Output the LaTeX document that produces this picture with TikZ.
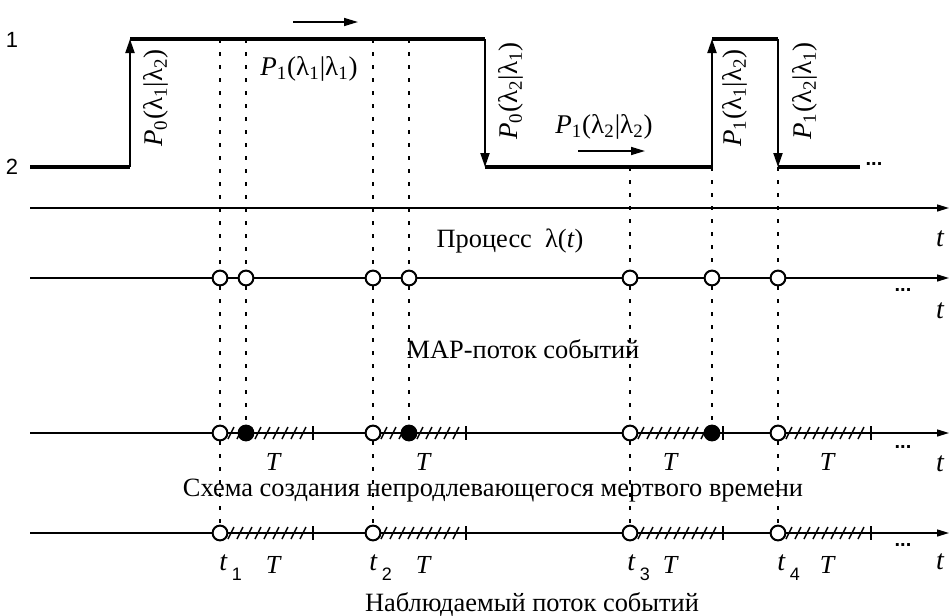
\documentclass[tikz,border=0pt]{standalone}
\usepackage{fontspec}
\setmainfont{Liberation Serif}
\newfontfamily\arialf{Liberation Sans}
\usetikzlibrary{arrows.meta}
\newcommand\dthatch[2]{% circle x, axis y
  \foreach \hk in {0,...,8}{\draw[line width=0.75pt] ({#1+11+9*\hk-3},{#2+6}) -- ({#1+11+9*\hk+3},{#2-6});}%
  \draw[line width=0.9pt] ({#1+93},{#2-7}) -- ({#1+93},{#2+7});%
}
\begin{document}
\begin{tikzpicture}[x=0.5pt,y=-0.5pt,
  state/.style={line width=2pt},
  trans/.style={line width=1pt,-{Triangle[length=7pt,width=4.5pt]}},
  harrow/.style={line width=0.8pt,-{Triangle[length=7pt,width=4pt]}},
  axis/.style={line width=0.75pt,-{Triangle[length=6pt,width=3.5pt]}},
  guide/.style={line width=1.3pt,dash pattern=on 2pt off 4.5pt},
  ev/.style={circle,draw,line width=1pt,fill=white,inner sep=0pt,minimum size=7.4pt},
  evf/.style={ev,fill=black},
  lbl/.style={font=\fontsize{13.2}{15}\selectfont,inner sep=0.5pt},
  plbl/.style={font=\fontsize{13.5}{15}\selectfont,inner sep=1pt},
  slbl/.style={font=\arialf\fontsize{11}{13}\selectfont},
  dots/.style={font=\arialf\bfseries\fontsize{10}{12}\selectfont,inner sep=1pt},
  tl/.style={font=\itshape\fontsize{14}{16}\selectfont,inner sep=1pt},
  tt/.style={font=\itshape\fontsize{13}{15}\selectfont,inner sep=0pt}]
\useasboundingbox (0,0) rectangle (949,616);

% state process
\coordinate (a0) at (30,167);
\coordinate (a1) at (130,167);
\coordinate (a2) at (130,39);
\coordinate (a3) at (485,39);
\coordinate (a4) at (485,167);
\coordinate (a5) at (712,167);
\coordinate (a6) at (712,39);
\coordinate (a7) at (778,39);
\coordinate (a8) at (778,167);
\coordinate (a9) at (860,167);
\draw[state] (a0) -- (a1);
\draw[state] (a2) -- (a3);
\draw[state] (a4) -- (a5);
\draw[state] (a6) -- (a7);
\draw[state] (a8) -- (a9);
\draw[trans] (a1) -- (a2);
\draw[trans] (a3) -- (a4);
\draw[trans] (a5) -- (a6);
\draw[trans] (a7) -- (a8);
\node[slbl] (l1) at (12,40) {1};
\node[slbl] (l2) at (12,167) {2};
\node[dots] (d0) at (874,164) {...};

\coordinate (h1s) at (293,22); \coordinate (h1e) at (358,22);
\coordinate (h2s) at (578,151); \coordinate (h2e) at (645,151);
\draw[harrow] (h1s) -- (h1e);
\draw[harrow] (h2s) -- (h2e);

\node[plbl] (p11) at (309,69) {\textit{P}\textsubscript{1}(λ\textsubscript{1}|λ\textsubscript{1})};
\node[plbl] (p22) at (604,127) {\textit{P}\textsubscript{1}(λ\textsubscript{2}|λ\textsubscript{2})};
\node[plbl,rotate=90] (p012) at (156,98) {\textit{P}\textsubscript{0}(λ\textsubscript{1}|λ\textsubscript{2})};
\node[plbl,rotate=90] (p021) at (511,91) {\textit{P}\textsubscript{0}(λ\textsubscript{2}|λ\textsubscript{1})};
\node[plbl,rotate=90] (p112) at (735,98) {\textit{P}\textsubscript{1}(λ\textsubscript{1}|λ\textsubscript{2})};
\node[plbl,rotate=90] (p121) at (805,91) {\textit{P}\textsubscript{1}(λ\textsubscript{2}|λ\textsubscript{1})};

% axes
\coordinate (x1s) at (30,208); \coordinate (x1e) at (949,208);
\coordinate (x2s) at (30,278); \coordinate (x2e) at (949,278);
\coordinate (x3s) at (30,433); \coordinate (x3e) at (949,433);
\coordinate (x4s) at (30,533); \coordinate (x4e) at (949,533);
\draw[axis] (x1s) -- (x1e);
\draw[axis] (x2s) -- (x2e);
\draw[axis] (x3s) -- (x3e);
\draw[axis] (x4s) -- (x4e);

\node[tl] (t1) at (940,239) {t};
\node[tl] (t2) at (940,311) {t};
\node[tl] (t3) at (940,464) {t};
\node[tl] (t4) at (940,562) {t};
\node[dots] (d2) at (903,290) {...};
\node[dots] (d3) at (903,447) {...};
\node[dots] (d4) at (903,545) {...};

\node[lbl] (c1) at (510,241) {Процесс\ \ λ(\textit{t})};
\node[lbl] (c2) at (523,349) {MAP-поток событий};
\node[lbl] (c3) at (493,491) {Схема создания непродлевающегося мертвого времени};
\node[lbl] (c4) at (532,605) {Наблюдаемый поток событий};

% guide tops
\coordinate (g1) at (220,39);
\coordinate (g2) at (246,39);
\coordinate (g3) at (373,39);
\coordinate (g4) at (409,39);
\coordinate (g5) at (630,167);
\coordinate (g6) at (712,167);
\coordinate (g7) at (778,167);

% hatching of dead time
\dthatch{220}{433}
\dthatch{373}{433}
\dthatch{630}{433}
\dthatch{778}{433}
\dthatch{220}{533}
\dthatch{373}{533}
\dthatch{630}{533}
\dthatch{778}{533}

% events
\node[ev] (m1) at (220,278) {};
\node[ev] (m2) at (246,278) {};
\node[ev] (m3) at (373,278) {};
\node[ev] (m4) at (409,278) {};
\node[ev] (m5) at (630,278) {};
\node[ev] (m6) at (712,278) {};
\node[ev] (m7) at (778,278) {};

\node[ev] (s1) at (220,433) {};
\node[evf] (s2) at (246,433) {};
\node[ev] (s3) at (373,433) {};
\node[evf] (s4) at (409,433) {};
\node[ev] (s5) at (630,433) {};
\node[evf] (s6) at (712,433) {};
\node[ev] (s7) at (778,433) {};

\node[ev] (o1) at (220,533) {};
\node[ev] (o2) at (373,533) {};
\node[ev] (o3) at (630,533) {};
\node[ev] (o4) at (778,533) {};

% guides
\draw[guide] (g1) -- (m1); \draw[guide] (m1) -- (s1); \draw[guide] (s1) -- (o1);
\draw[guide] (g2) -- (m2); \draw[guide] (m2) -- (s2);
\draw[guide] (g3) -- (m3); \draw[guide] (m3) -- (s3); \draw[guide] (s3) -- (o2);
\draw[guide] (g4) -- (m4); \draw[guide] (m4) -- (s4);
\draw[guide] (g5) -- (m5); \draw[guide] (m5) -- (s5); \draw[guide] (s5) -- (o3);
\draw[guide] (g6) -- (m6); \draw[guide] (m6) -- (s6);
\draw[guide] (g7) -- (m7); \draw[guide] (m7) -- (s7); \draw[guide] (s7) -- (o4);

% T labels
\foreach \tx/\ty/\tn in {273/462/T1,423/462/T2,670/462/T3,827/462/T4,273/565/T5,423/565/T6,670/565/T7,827/565/T8}
  {\node[tt] (\tn) at (\tx,\ty) {T};}

% t_i labels
\foreach \ix/\ii in {222/1,372/2,630/3,780/4}
  {\node[tl,anchor=base west] (ti\ii) at (\ix-5,570) {t\,{\upshape\arialf\fontsize{9}{11}\selectfont\raisebox{-5pt}{\ii}}};}
\end{tikzpicture}
\end{document}
